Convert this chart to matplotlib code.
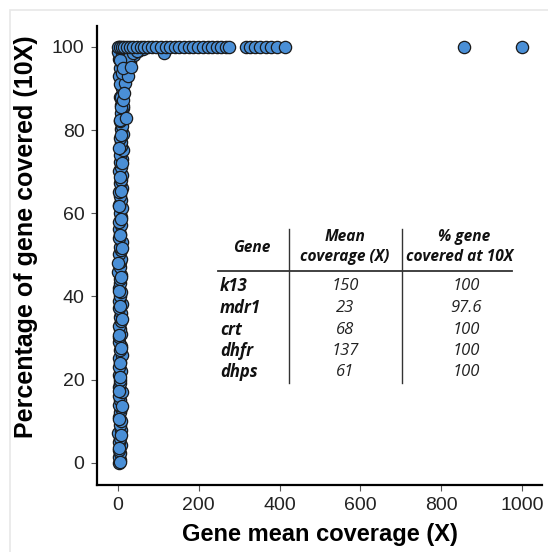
import matplotlib
matplotlib.use("Agg")
import matplotlib.pyplot as plt
from matplotlib.patches import Rectangle
from matplotlib.lines import Line2D

# vertical column: genes with very low mean coverage (x ~ 0-12)
col_x = [2.1, 4.5, 1.3, 6.0, 3.2, 7.4, 2.8, 5.1, 1.0, 8.3, 3.9, 6.6, 2.2, 4.8, 7.9, 1.6,
         5.5, 3.0, 8.8, 2.5, 6.2, 4.1, 1.9, 7.0, 3.6, 5.8, 2.0, 9.1, 4.4, 6.9, 1.4, 3.3,
         7.6, 5.0, 2.7, 8.0, 4.0, 6.4, 1.8, 9.5, 3.1, 5.3, 7.2, 2.4, 6.1, 4.6, 8.6, 1.2,
         5.7, 3.8, 7.7, 2.9, 6.8, 4.2, 9.9, 1.7, 5.2, 3.4, 8.1, 2.3, 6.5, 4.9, 10.4, 3.7,
         7.3, 5.6, 2.6, 8.9, 4.3, 6.3, 10.8, 3.5, 7.8, 5.4, 9.3, 4.7, 11.5, 6.7, 8.4, 5.9,
         12.0, 7.1, 9.7, 6.0, 11.0, 8.2, 13.5, 7.5, 10.1, 9.0, 12.6]
col_y = [0.0, 0.6, 1.4, 2.3, 3.1, 4.2, 5.0, 5.9, 7.1, 8.0, 9.2, 10.1, 11.0, 12.3, 13.1, 14.0,
         15.2, 16.1, 17.0, 18.3, 19.2, 20.0, 21.1, 22.2, 23.0, 24.3, 25.1, 26.0, 27.2, 28.1,
         29.0, 30.2, 31.1, 32.3, 33.0, 34.2, 35.1, 36.0, 37.3, 38.1, 39.0, 40.2, 41.1, 42.0,
         43.3, 44.1, 45.2, 46.0, 47.1, 48.3, 49.0, 50.2, 51.1, 52.0, 53.2, 54.1, 55.0, 56.3,
         57.1, 58.0, 59.2, 60.1, 61.3, 62.0, 63.1, 64.2, 65.0, 66.1, 67.3, 68.0, 69.2, 70.1,
         71.0, 72.2, 73.1, 74.0, 75.3, 76.1, 77.2, 78.0, 79.1, 80.2, 81.0, 82.1, 83.3, 84.0,
         85.2, 86.1, 87.0, 88.3, 89.1]

# second pass through the column (overlapping markers)
col2_x = [5.0, 2.0, 7.5, 3.5, 9.0, 1.5, 6.0, 4.0, 8.0, 2.5, 10.0, 5.5, 3.0, 7.0, 1.0, 9.5,
          4.5, 6.5, 2.0, 8.5, 5.0, 11.0, 3.5, 7.5, 6.0, 12.0, 4.0, 9.0, 8.0, 13.0]
col2_y = [0.3, 3.6, 6.8, 10.5, 13.7, 17.4, 20.6, 24.0, 27.6, 30.8, 34.5, 37.7, 41.4, 44.6,
          48.0, 51.6, 54.8, 58.5, 61.7, 65.4, 68.6, 72.0, 75.6, 78.8, 82.5, 85.7, 88.0, 90.4,
          92.0, 93.6]

# corner where coverage saturates
corner_x = [3.0, 6.0, 9.0, 14.0, 19.0, 26.0, 34.0, 44.0, 55.0, 20.0, 30.0, 15.0, 10.0, 6.5,
            23.0, 40.0, 50.0, 62.0, 8.0, 12.5, 4.0, 2.0, 1.0, 2.5, 9.5, 15.5, 28.0, 36.0,
            18.0, 11.0, 5.0, 7.0, 24.0, 46.0, 115.0, 21.0, 16.0, 13.0, 32.0]
corner_y = [93.0, 95.0, 96.2, 97.0, 98.0, 98.8, 99.3, 99.6, 99.8, 94.2, 96.4, 92.0, 90.2, 88.0,
            95.6, 98.0, 98.9, 99.4, 85.5, 87.2, 91.0, 97.0, 98.8, 100.0, 97.9, 99.2, 97.6, 98.4,
            91.4, 93.8, 96.8, 99.6, 93.0, 99.0, 98.6, 83.0, 89.0, 94.8, 95.2]

# genes fully covered (100 %)
top_x = [0.0, 5.0, 10.0, 16.0, 22.0, 30.0, 38.0, 47.0, 56.0, 65.0, 75.0, 84.0, 95.0, 106.0,
         118.0, 128.0, 140.0, 152.0, 163.0, 175.0, 186.0, 198.0, 210.0, 222.0, 233.0, 245.0,
         256.0, 268.0, 276.0, 316.0, 327.0, 340.0, 352.0, 366.0, 380.0, 393.0, 413.0,
         857.0, 1000.0]
top_y = [100.0] * len(top_x)

gene = ["k13", "mdr1", "crt", "dhfr", "dhps"]
mean_cov = ["150", "23", "68", "137", "61"]
pct_cov = ["100", "97.6", "100", "100", "100"]

plt.rcParams["font.family"] = ["Liberation Sans", "DejaVu Sans"]

fig = plt.figure(figsize=(5.48, 5.52), dpi=100)
fig.patches.append(Rectangle((10 / 548, -0.01), 1.0, 1 - 10 / 552 + 0.01,
                             transform=fig.transFigure, fill=False,
                             edgecolor="#e8e8e8", linewidth=1.2))
ax = fig.add_axes([0.177, 0.1214, 0.812, 0.8315])

kw = dict(s=78, facecolor="#4a8fd6", edgecolor="#1a1a1a", linewidth=0.9, zorder=3)
ax.scatter(col_x, col_y, **kw)
ax.scatter(col2_x, col2_y, **kw)
ax.scatter(corner_x, corner_y, **kw)
ax.scatter(top_x, top_y, **kw)

ax.set_xlim(-52, 1050)
ax.set_ylim(-5.3, 105)
ax.set_xticks([0, 200, 400, 600, 800, 1000])
ax.set_yticks([0, 20, 40, 60, 80, 100])
for s in ["top", "right"]:
    ax.spines[s].set_visible(False)
for s in ["left", "bottom"]:
    ax.spines[s].set_linewidth(1.6)
ax.tick_params(length=4, width=0.8, color="#555555", labelsize=14,
               labelcolor="#222222", pad=5)
ax.set_xlabel("Gene mean coverage (X)", fontsize=17, fontweight="bold", labelpad=6)
ax.set_ylabel("Percentage of gene covered (10X)", fontsize=18, fontweight="bold")
ax.yaxis.set_label_coords(-0.133, 0.54)

# inset table, placed in pixel coordinates of the figure
def px(x, y):
    return x / 548, 1 - y / 552

tfont = ["Open Sans", "DejaVu Sans"]
hdr = dict(fontsize=11.2, fontweight="bold", style="italic", family=tfont,
           ha="center", va="center", color="#111111")
fig.text(*px(252, 248), "Gene", **hdr)
fig.text(*px(345, 237), "Mean", **hdr)
fig.text(*px(345, 257), "coverage (X)", **hdr)
fig.text(*px(464, 237), "% gene", **hdr)
fig.text(*px(460, 257), "covered at 10X", **hdr)

row_y = [286, 308, 330, 351, 372]
for i in range(len(gene)):
    fig.text(*px(220, row_y[i]), gene[i], fontsize=12, fontweight="bold",
             style="italic", family=tfont, ha="left", va="center", color="#111111")
    fig.text(*px(345, row_y[i]), mean_cov[i], fontsize=12, style="italic",
             family=tfont, ha="center", va="center", color="#222222")
    fig.text(*px(466, row_y[i]), pct_cov[i], fontsize=12, style="italic",
             family=tfont, ha="center", va="center", color="#222222")

lc = "#333333"
fig.add_artist(Line2D([px(218, 0)[0], px(512, 0)[0]], [px(0, 271)[1]] * 2,
                      color=lc, linewidth=1.3))
fig.add_artist(Line2D([px(289, 0)[0]] * 2, [px(0, 229)[1], px(0, 383)[1]],
                      color=lc, linewidth=1.0))
fig.add_artist(Line2D([px(402, 0)[0]] * 2, [px(0, 229)[1], px(0, 383)[1]],
                      color=lc, linewidth=1.0))

fig.savefig("out.png", dpi=100)
